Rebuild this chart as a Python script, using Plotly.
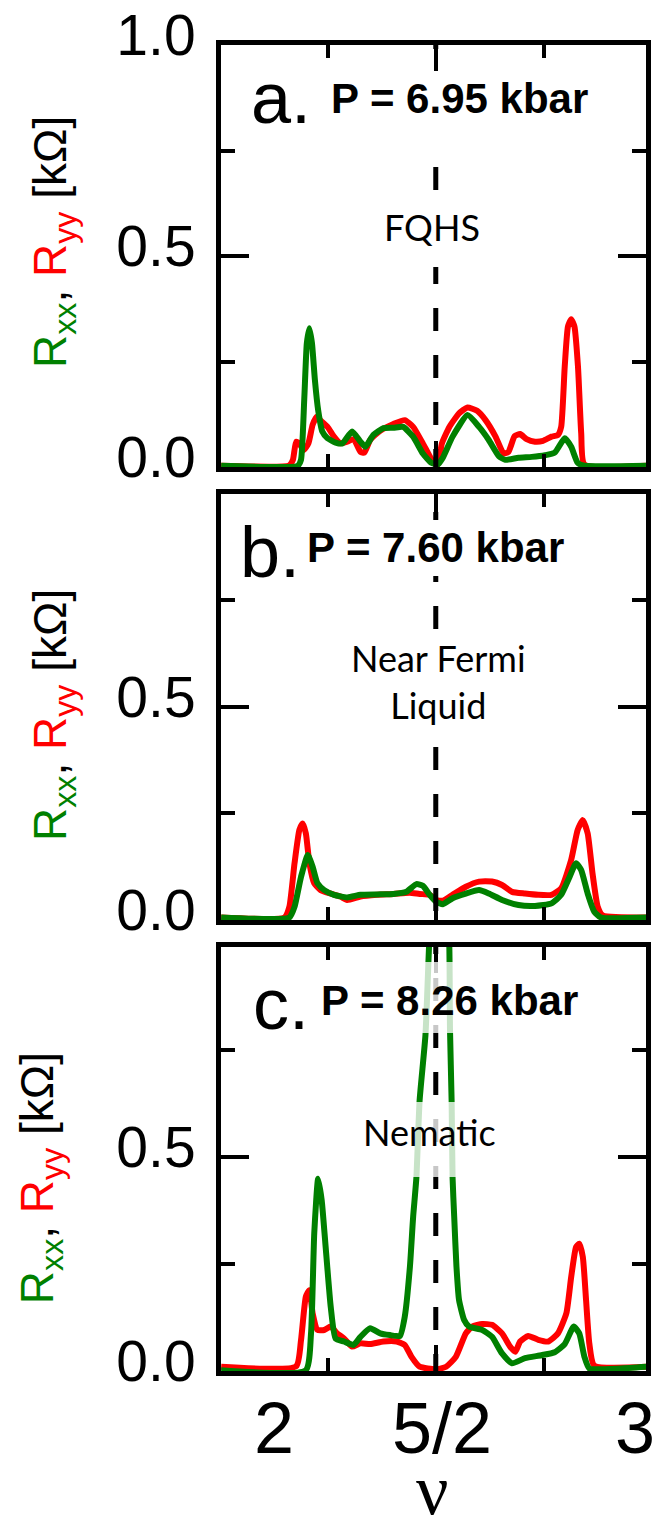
import plotly.graph_objects as go

# ---------------- data ----------------
# Panel a, P = 6.95 kbar
nu_a_xx = [1.836, 2.073, 2.083, 2.093, 2.101, 2.109, 2.117, 2.126, 2.136, 2.149, 2.165, 2.190, 2.211, 2.241,
           2.267, 2.282, 2.307, 2.338, 2.369, 2.399, 2.430, 2.460, 2.486, 2.506, 2.521, 2.552, 2.598, 2.634,
           2.664, 2.695, 2.715, 2.756, 2.797, 2.838, 2.868, 2.899, 2.919, 2.939, 2.960, 3.156]
r_a_xx = [0.003, 0.003, 0.017, 0.159, 0.293, 0.329, 0.293, 0.206, 0.135, 0.084, 0.068, 0.058, 0.056, 0.084,
          0.060, 0.048, 0.076, 0.092, 0.093, 0.095, 0.072, 0.032, 0.010, 0.006, 0.021, 0.072, 0.123, 0.095,
          0.064, 0.026, 0.017, 0.022, 0.024, 0.028, 0.034, 0.068, 0.048, 0.010, 0.003, 0.003]
nu_a_yy = [1.836, 2.047, 2.058, 2.068, 2.078, 2.091, 2.106, 2.119, 2.132, 2.144, 2.165, 2.185, 2.205, 2.226,
           2.246, 2.267, 2.279, 2.297, 2.328, 2.369, 2.404, 2.430, 2.460, 2.491, 2.506, 2.519, 2.542, 2.572,
           2.598, 2.628, 2.654, 2.685, 2.710, 2.725, 2.744, 2.761, 2.781, 2.807, 2.832, 2.858, 2.878, 2.888,
           2.899, 2.909, 2.919, 2.929, 2.940, 2.950, 2.960, 3.156]
r_a_yy = [0.003, 0.004, 0.017, 0.060, 0.056, 0.040, 0.056, 0.100, 0.119, 0.110, 0.095, 0.072, 0.056, 0.060,
          0.066, 0.036, 0.034, 0.064, 0.086, 0.102, 0.111, 0.095, 0.056, 0.013, 0.006, 0.056, 0.095, 0.127,
          0.141, 0.133, 0.111, 0.072, 0.032, 0.036, 0.073, 0.078, 0.066, 0.060, 0.062, 0.072, 0.076, 0.095,
          0.238, 0.333, 0.350, 0.333, 0.238, 0.080, 0.006, 0.003]

# Panel b, P = 7.60 kbar
nu_b_xx = [1.836, 2.047, 2.063, 2.083, 2.104, 2.119, 2.134, 2.155, 2.185, 2.226, 2.267, 2.318, 2.369, 2.409,
           2.440, 2.460, 2.481, 2.501, 2.522, 2.552, 2.593, 2.634, 2.664, 2.705, 2.756, 2.807, 2.858, 2.888,
           2.914, 2.934, 2.950, 2.970, 2.990, 3.011, 3.156]
r_b_xx = [0.006, 0.006, 0.031, 0.101, 0.152, 0.125, 0.086, 0.070, 0.059, 0.053, 0.059, 0.060, 0.061, 0.066,
          0.084, 0.080, 0.059, 0.043, 0.037, 0.051, 0.062, 0.070, 0.062, 0.047, 0.035, 0.033, 0.039, 0.059,
          0.101, 0.133, 0.117, 0.062, 0.020, 0.006, 0.006]
nu_b_yy = [1.836, 2.032, 2.047, 2.063, 2.078, 2.088, 2.098, 2.109, 2.124, 2.144, 2.175, 2.205, 2.226, 2.267,
           2.318, 2.369, 2.419, 2.450, 2.481, 2.501, 2.522, 2.552, 2.593, 2.634, 2.674, 2.705, 2.736, 2.776,
           2.817, 2.858, 2.888, 2.919, 2.939, 2.955, 2.970, 2.985, 3.001, 3.016, 3.156]
r_b_yy = [0.006, 0.006, 0.031, 0.133, 0.211, 0.226, 0.203, 0.133, 0.086, 0.070, 0.062, 0.055, 0.047, 0.055,
          0.059, 0.061, 0.064, 0.061, 0.059, 0.047, 0.045, 0.059, 0.078, 0.090, 0.090, 0.082, 0.066, 0.062,
          0.059, 0.059, 0.074, 0.141, 0.211, 0.234, 0.203, 0.109, 0.031, 0.011, 0.006]

# Panel c, P = 8.26 kbar
nu_c_xx = [1.836, 2.098, 2.114, 2.124, 2.136, 2.147, 2.160, 2.175, 2.190, 2.216, 2.246, 2.267, 2.297, 2.328,
           2.358, 2.389, 2.404, 2.420, 2.430, 2.440, 2.450, 2.468, 2.479, 2.495, 2.510, 2.527, 2.542, 2.544,
           2.549, 2.552, 2.557, 2.564, 2.572, 2.588, 2.603, 2.644, 2.674, 2.705, 2.736, 2.776, 2.827, 2.868,
           2.899, 2.927, 2.944, 2.960, 2.975, 3.072, 3.156]
r_c_xx = [0.002, 0.002, 0.088, 0.322, 0.450, 0.400, 0.283, 0.150, 0.076, 0.069, 0.061, 0.080, 0.100, 0.088,
          0.084, 0.082, 0.127, 0.244, 0.361, 0.452, 0.633, 0.785, 0.990, 1.250, 1.350, 1.250, 0.990, 0.800,
          0.633, 0.452, 0.361, 0.244, 0.166, 0.119, 0.104, 0.096, 0.080, 0.041, 0.018, 0.030, 0.037, 0.044,
          0.063, 0.104, 0.088, 0.033, 0.006, 0.006, 0.010]
nu_c_yy = [1.836, 2.068, 2.083, 2.098, 2.109, 2.119, 2.134, 2.155, 2.175, 2.195, 2.216, 2.241, 2.267, 2.297,
           2.338, 2.379, 2.404, 2.425, 2.450, 2.501, 2.532, 2.562, 2.593, 2.613, 2.644, 2.674, 2.705, 2.730,
           2.746, 2.761, 2.786, 2.817, 2.848, 2.878, 2.904, 2.919, 2.934, 2.944, 2.955, 2.965, 2.975, 2.990,
           3.156]
r_c_yy = [0.010, 0.011, 0.072, 0.174, 0.189, 0.135, 0.096, 0.096, 0.104, 0.088, 0.076, 0.057, 0.065, 0.063,
          0.069, 0.069, 0.061, 0.033, 0.010, 0.004, 0.010, 0.033, 0.088, 0.104, 0.110, 0.108, 0.088, 0.057,
          0.045, 0.069, 0.082, 0.073, 0.069, 0.088, 0.135, 0.220, 0.290, 0.298, 0.267, 0.166, 0.065, 0.013,
          0.010]

panel_letters = ["a.", "b.", "c."]
pressures = ["P = 6.95 kbar", "P = 7.60 kbar", "P = 8.26 kbar"]
phase_labels = ["FQHS", "Near Fermi<br>Liquid", "Nematic"]
nu_half = 2.5
x_tick_text = ["2", "5/2", "3"]
y_tick_vals_a = [0.0, 0.5, 1.0]
y_tick_text_a = ["0.0", "0.5", "1.0"]
y_tick_vals_bc = [0.0, 0.5]
y_tick_text_bc = ["0.0", "0.5"]

# ---------------- layout geometry (pixels) ----------------
W, H = 653, 1516
L, R, T, B = 221, 2, 45, 145
PH = H - T - B          # plot-area height in px
PW = W - L - R


def py(Y):              # pixel Y -> paper y
    return (H - B - Y) / PH


def px(X):              # pixel X -> paper x
    return (X - L) / PW


GREEN = "#008000"
RED = "#FF0000"
SANS = "Liberation Sans, Arial, sans-serif"
LW = 6

panels = [
    dict(top=45, bot=467, yr=[0, 1.0], xx=(nu_a_xx, r_a_xx), yy=(nu_a_yy, r_a_yy), dash0=-0.012,
         tv=y_tick_vals_a, tt=y_tick_text_a),
    dict(top=494, bot=920, yr=[0, 0.998], xx=(nu_b_xx, r_b_xx), yy=(nu_b_yy, r_b_yy), dash0=-0.089,
         tv=y_tick_vals_bc, tt=y_tick_text_bc),
    dict(top=947, bot=1371, yr=[0, 0.992], xx=(nu_c_xx, r_c_xx), yy=(nu_c_yy, r_c_yy), dash0=-0.014,
         tv=y_tick_vals_bc, tt=y_tick_text_bc),
]

fig = go.Figure()
xr = [2.5 + (L - 438.3) / 327.0, 2.5 + (W - R - 438.3) / 327.0]

shapes = []
for i, p in enumerate(panels):
    k = "" if i == 0 else str(i + 1)
    xa, ya = "x" + k, "y" + k
    fig.add_trace(go.Scatter(x=p["yy"][0], y=p["yy"][1], mode="lines", xaxis=xa, yaxis=ya,
                             line=dict(color=RED, width=LW, shape="spline", smoothing=0.5),
                             showlegend=False, hoverinfo="skip"))
    fig.add_trace(go.Scatter(x=p["xx"][0], y=p["xx"][1], mode="lines", xaxis=xa, yaxis=ya,
                             line=dict(color=GREEN, width=LW, shape="spline", smoothing=0.5),
                             showlegend=False, hoverinfo="skip"))
    xaxis = dict(range=xr, domain=[0, 1], anchor=ya, showline=True, linewidth=5, linecolor="black",
                 mirror="ticks", showgrid=False, zeroline=False, tickmode="array", tickvals=[nu_half],
                 ticks="inside", ticklen=26, tickwidth=4, tickcolor="black", showticklabels=False,
                 minor=dict(tickmode="array", tickvals=[13 / 6, 17 / 6], ticks="inside", ticklen=13,
                            tickwidth=4, tickcolor="black", showgrid=False))
    yaxis = dict(range=p["yr"], domain=[py(p["bot"]), py(p["top"])], anchor=xa, showline=True,
                 linewidth=5, linecolor="black", mirror="ticks", showgrid=False, zeroline=False,
                 tickmode="array", tickvals=p["tv"], ticktext=p["tt"], ticks="inside",
                 ticklen=28, tickwidth=4, tickcolor="black",
                 tickfont=dict(family=SANS, size=57, color="black"), ticklabelshift=-10,
                 ticklabelstandoff=9,
                 minor=dict(tickmode="array", tickvals=[0.25, 0.75], ticks="inside", ticklen=14,
                            tickwidth=4, tickcolor="black", showgrid=False))
    fig.update_layout(**{"xaxis" + k: xaxis, "yaxis" + k: yaxis})
    # dashed line at nu = 5/2
    shapes.append(dict(type="line", xref=xa, yref=ya, x0=nu_half, x1=nu_half, y0=p["dash0"], y1=1.1,
                       line=dict(color="black", width=5, dash="23px,24px"), layer="above"))

# label background boxes (white), drawn above the traces
boxes = [
    (320, 600, 73, 165, "white"),
    (380, 490, 193, 267, "white"),
    (300, 570, 520, 576, "white"),
    (350, 535, 632, 747, "white"),
    (315, 590, 962, 1033, "rgba(255,255,255,0.78)"),
    (360, 505, 1102, 1177, "rgba(255,255,255,0.78)"),
]
for x0, x1, y0, y1, c in boxes:
    shapes.append(dict(type="rect", xref="paper", yref="paper", x0=px(x0), x1=px(x1), y0=py(y1), y1=py(y0),
                       fillcolor=c, line=dict(width=0), layer="above"))

ann = []
letter_pos = [(249, 98.5), (238, 551.5), (251, 1003.5)]
p_pos = [(330, 99), (306, 547), (320, 1000)]
phase_pos = [(434.5, 227), (441, 681), (432, 1132)]
title_pos = [(51, 242), (51, 715), (38, 1178)]
ytitle = ('<span style="color:%s">R<sub>xx</sub></span>, <span style="color:%s">R<sub>yy</sub></span> [kΩ]'
          % (GREEN, RED))
for i in range(3):
    ann.append(dict(text=panel_letters[i], xref="paper", yref="paper", x=px(letter_pos[i][0]),
                    y=py(letter_pos[i][1]), xanchor="left", yanchor="middle", showarrow=False,
                    font=dict(family=SANS, size=72, color="black")))
    ann.append(dict(text="<b>%s</b>" % pressures[i], xref="paper", yref="paper", x=px(p_pos[i][0]),
                    y=py(p_pos[i][1]), xanchor="left", yanchor="middle", showarrow=False,
                    font=dict(family=SANS, size=42, color="black")))
    ann.append(dict(text=phase_labels[i], xref="paper", yref="paper", x=px(phase_pos[i][0]),
                    y=py(phase_pos[i][1]), xanchor="center", yanchor="middle", showarrow=False,
                    font=dict(family="Lato, Open Sans, sans-serif", size=36, color="black")))
    ann.append(dict(text=ytitle, xref="paper", yref="paper", x=px(title_pos[i][0]),
                    y=py(title_pos[i][1]), xanchor="center", yanchor="middle", showarrow=False,
                    textangle=-90, font=dict(family=SANS, size=46, color="black")))

# bottom tick labels and axis title
for xv, t in zip([2.0, 2.519, 3.115], x_tick_text):
    ann.append(dict(text=t, xref="x3", yref="paper", x=xv, y=py(1428), xanchor="center",
                    yanchor="middle", showarrow=False, font=dict(family=SANS, size=72, color="black")))
ann.append(dict(text="ν", xref="paper", yref="paper", x=px(435), y=py(1516), xanchor="center",
                yanchor="bottom", yshift=-16, showarrow=False,
                font=dict(family="Liberation Serif, Times New Roman, serif", size=72, color="black")))

fig.update_layout(width=W, height=H, margin=dict(l=L, r=R, t=T, b=B, pad=0),
                  paper_bgcolor="white", plot_bgcolor="white", shapes=shapes, annotations=ann,
                  showlegend=False)

fig.write_html("out.html")
